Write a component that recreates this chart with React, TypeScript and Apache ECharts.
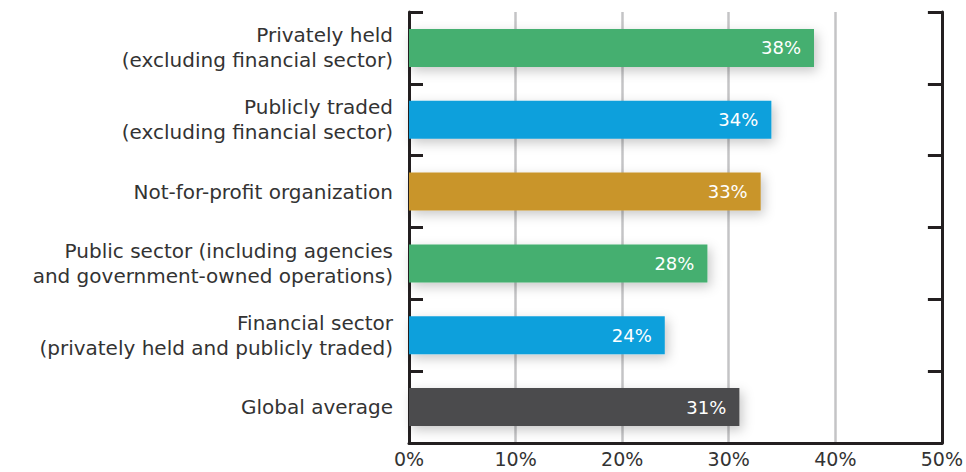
import React, { useEffect, useRef } from "react";
import * as echarts from "echarts";

const categories = [
  "Privately held\n(excluding financial sector)",
  "Publicly traded\n(excluding financial sector)",
  "Not-for-profit organization",
  "Public sector (including agencies\nand government-owned operations)",
  "Financial sector\n(privately held and publicly traded)",
  "Global average",
];
const values = [38, 34, 33, 28, 24, 31];
const barColors = ["#45AF6F", "#0DA0DC", "#C9952B", "#45AF6F", "#0DA0DC", "#4B4C4E"];
const xTicks = [0, 10, 20, 30, 40, 50];

export default function App() {
  const ref = useRef<HTMLDivElement>(null);
  useEffect(() => {
    const chart = echarts.init(ref.current!, null, { renderer: "svg" });
    const font = "'DejaVu Sans', sans-serif";
    const axisDark = "#231F20";
    chart.setOption({
      animation: false,
      grid: { left: 409, right: 23, top: 12, bottom: 29, containLabel: false },
      xAxis: {
        type: "value",
        min: xTicks[0],
        max: xTicks[xTicks.length - 1],
        interval: 10,
        axisLine: { show: true, lineStyle: { color: axisDark, width: 3 } },
        axisTick: { show: false },
        axisLabel: {
          formatter: (v: number) => v + "%",
          fontSize: 19,
          color: "#333",
          fontFamily: font,
          margin: 6,
        },
        splitLine: { show: true, lineStyle: { color: "#C4C4C6", width: 2.5 } },
      },
      yAxis: [
        {
          type: "category",
          data: categories,
          inverse: true,
          position: "left",
          axisLine: { show: true, lineStyle: { color: axisDark, width: 3 } },
          axisTick: { show: true, inside: true, length: 14, lineStyle: { color: axisDark, width: 3 } },
          axisLabel: {
            fontSize: 20,
            lineHeight: 25,
            color: "#333",
            fontFamily: font,
            margin: 16,
            align: "right",
          },
          splitLine: { show: false },
        },
        {
          type: "category",
          data: categories,
          inverse: true,
          position: "right",
          axisLine: { show: true, lineStyle: { color: axisDark, width: 3 } },
          axisTick: { show: true, inside: true, length: 14, lineStyle: { color: axisDark, width: 3 } },
          axisLabel: { show: false },
          splitLine: { show: false },
        },
      ],
      series: [
        {
          type: "bar",
          yAxisIndex: 0,
          data: values.map((v, i) => ({ value: v, itemStyle: { color: barColors[i] } })),
          barWidth: 38,
          itemStyle: {
            shadowBlur: 12,
            shadowColor: "rgba(0,0,0,0.22)",
            shadowOffsetX: 3,
            shadowOffsetY: 4,
          },
          label: {
            show: true,
            position: "insideRight",
            distance: 13,
            formatter: (p: any) => p.value + "%",
            color: "#fff",
            fontSize: 18,
            fontFamily: font,
          },
        },
      ],
    });
    return () => chart.dispose();
  }, []);
  return (
    <div
      ref={ref}
      style={{ position: "fixed", left: 0, top: 0, width: 966, height: 472, background: "#fff" }}
    />
  );
}
